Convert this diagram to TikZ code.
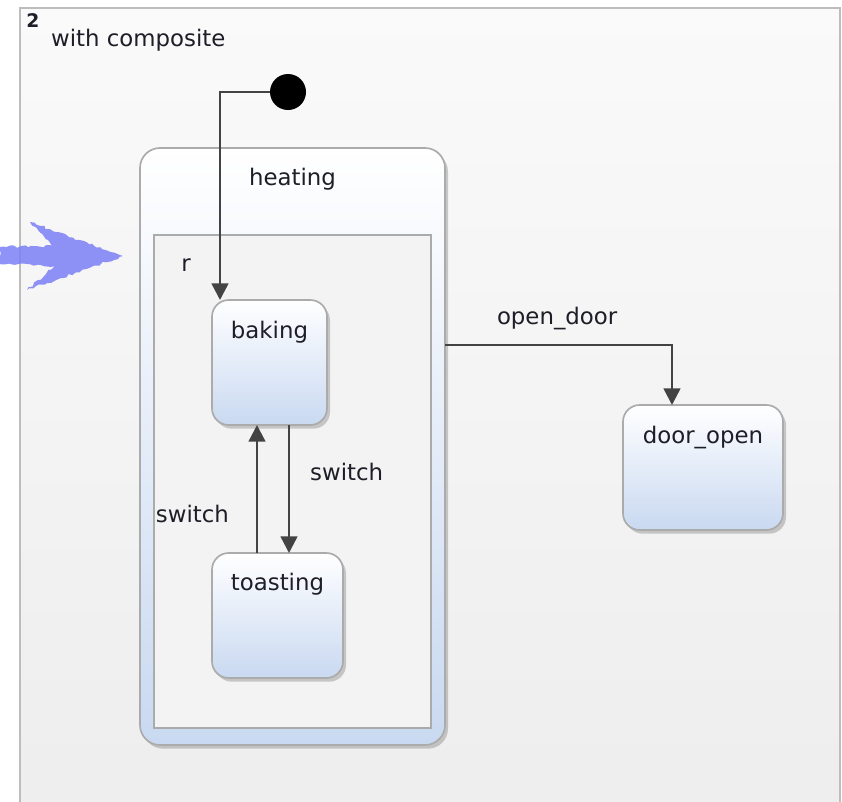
\documentclass[tikz,border=0pt]{standalone}
\usepackage{fontspec}
\setmainfont{DejaVu Sans}
\usetikzlibrary{arrows.meta,positioning,shadows,decorations.pathmorphing}
\definecolor{stateblue}{HTML}{C9D9F1}
\definecolor{edgegray}{HTML}{434343}
\definecolor{bordergray}{HTML}{ABABAB}
\definecolor{framegray}{HTML}{BDBDBD}
\definecolor{regiongray}{HTML}{F3F3F3}
\definecolor{scribble}{HTML}{7B80F6}
\definecolor{textdark}{HTML}{1E1E28}

\begin{document}
\begin{tikzpicture}[x=0.03cm, y=-0.03cm, >={Triangle[length=0.5cm,width=0.5cm]},
    font=\fontsize{19.5}{23}\selectfont, text=textdark,
    state/.style={draw=bordergray, line width=0.05cm, rounded corners=0.5cm,
        top color=white, bottom color=stateblue, inner sep=0pt, outer sep=0pt,
        drop shadow={shadow xshift=0.09cm, shadow yshift=-0.11cm, opacity=0.4}},
    region/.style={draw=bordergray, line width=0.045cm, fill=regiongray, inner sep=0pt, outer sep=0pt},
    initial/.style={circle, fill=black, minimum size=1.08cm, inner sep=0pt, outer sep=0pt},
    trans/.style={->, draw=edgegray, line width=0.075cm}]
    \useasboundingbox (0,0) rectangle (842,801);

    % 外框
    \draw[draw=framegray, line width=0.06cm, top color=white!98!black, bottom color=white!93!black]
        (20,8) rectangle (840,830);
    \node[font=\fontsize{16}{18}\selectfont\bfseries] (num) at (33,21) {2};
    \node[anchor=west] (title) at (47,40) {with composite};

    % 手绘的蓝色箭头
    \fill[scribble, opacity=0.85, decorate, decoration={random steps, segment length=3pt, amplitude=1.2pt}]
        (0,247) -- (52,246) -- (30,222) -- (123,256) -- (27,290) -- (55,266) -- (0,264) -- cycle;

    % 复合状态 heating 及区域 r
    \node[state, rounded corners=0.6cm, minimum width=9.15cm, minimum height=17.91cm,
        label={[anchor=base, yshift=-1.14cm]north:heating}] (heating) at (292.5,446.5) {};
    \node[region, minimum width=8.31cm, minimum height=14.79cm,
        label={[anchor=center, xshift=0.96cm, yshift=-0.9cm]north west:r}] (r) at (292.5,481.5) {};

    % 初始状态
    \node[initial] (init) at (288,92) {};

    % 子状态
    \node[state, minimum width=3.45cm, minimum height=3.75cm,
        label={[anchor=base, yshift=-1.14cm]north:baking}] (baking) at (269.5,362.5) {};
    \node[state, minimum width=3.93cm, minimum height=3.75cm,
        label={[anchor=base, yshift=-1.11cm]north:toasting}] (toasting) at (277.5,615.5) {};
    \node[state, minimum width=4.8cm, minimum height=3.75cm,
        label={[anchor=base, yshift=-1.14cm]north:door\_open}] (door) at (703,467.5) {};

    % 迁移
    \draw[trans] (init.west) -| ([xshift=0.24cm]baking.north west);
    \draw[trans] ([xshift=0.585cm]baking.south) -- ([xshift=0.585cm]baking.south |- toasting.north)
        node[pos=0.37, right=0.48cm] {switch};
    \draw[trans] ([xshift=-0.375cm]baking.south |- toasting.north) -- ([xshift=-0.375cm]baking.south)
        node[pos=0.305, left=0.69cm] {switch};
    \draw[trans] ([yshift=3.045cm]heating.east) -| ([xshift=-0.93cm]door.north)
        node[pos=0.247, above=0.3cm] {open\_door};
\end{tikzpicture}
\end{document}
